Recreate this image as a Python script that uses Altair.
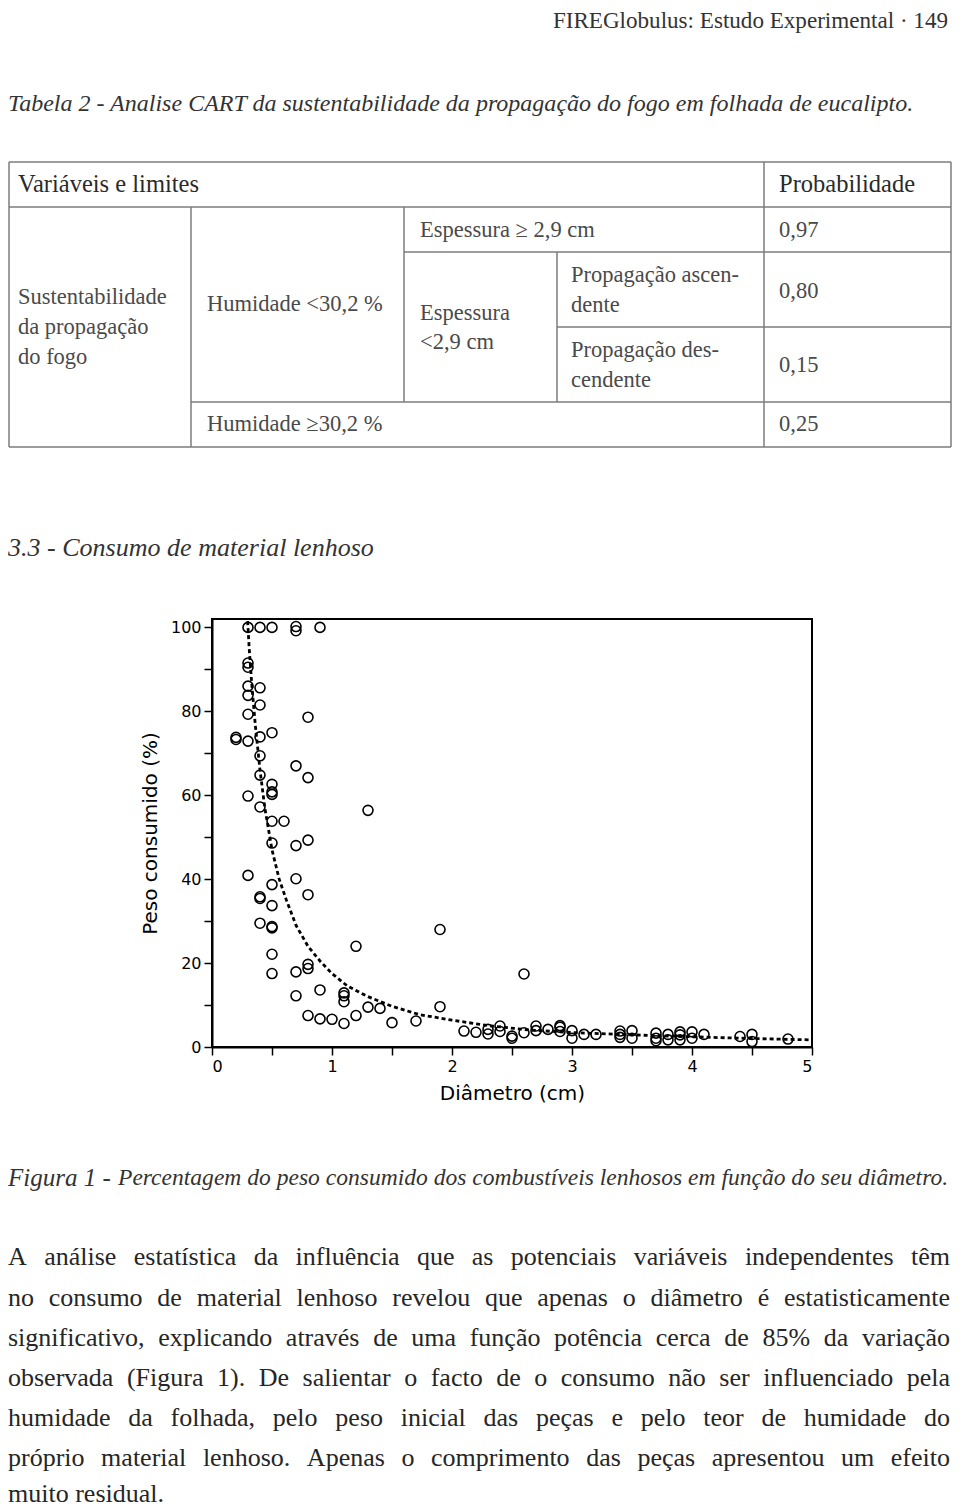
import unicodedata
import altair as alt
import pandas as pd

# ---------------- scatter data ----------------
diametro = [
    0.2, 0.2,
    0.3, 0.3, 0.3, 0.3, 0.3, 0.3, 0.3, 0.3, 0.3,
    0.4, 0.4, 0.4, 0.4, 0.4, 0.4, 0.4, 0.4, 0.4, 0.4,
    0.5, 0.5, 0.5, 0.5, 0.5, 0.5, 0.5, 0.5, 0.5, 0.5, 0.5, 0.5, 0.5,
    0.6,
    0.7, 0.7, 0.7, 0.7, 0.7, 0.7, 0.7,
    0.8, 0.8, 0.8, 0.8, 0.8, 0.8, 0.8,
    0.9, 0.9, 0.9,
    1.0,
    1.1, 1.1, 1.1, 1.1,
    1.2, 1.2, 1.3, 1.3, 1.4, 1.5, 1.7, 1.9, 1.9,
    2.1, 2.2, 2.3, 2.3, 2.4, 2.4, 2.5, 2.5, 2.6, 2.6, 2.7, 2.7, 2.8,
    2.9, 2.9, 2.9, 3.0, 3.0, 3.1, 3.2, 3.4, 3.4, 3.4, 3.5, 3.5,
    3.7, 3.7, 3.7, 3.8, 3.8, 3.9, 3.9, 3.9, 4.0, 4.0, 4.1, 4.4, 4.5, 4.5, 4.8,
]
peso_consumido = [
    73.8, 73.3,
    100, 91.5, 90.5, 86.0, 83.8, 79.3, 72.9, 59.8, 40.9,
    100, 85.6, 81.5, 73.9, 69.4, 64.8, 57.2, 35.8, 35.4, 29.5,
    100, 74.9, 62.6, 60.8, 60.2, 53.8, 48.6, 38.7, 33.7, 28.7, 28.4, 22.1, 17.5,
    53.8,
    100.2, 99.2, 67.0, 48.0, 40.1, 17.9, 12.2,
    78.6, 64.2, 49.3, 36.3, 19.7, 18.7, 7.5,
    100, 13.6, 6.7,
    6.6,
    12.9, 12.2, 10.8, 5.6,
    24.0, 7.5, 56.4, 9.5, 9.2, 5.8, 6.2, 28.0, 9.6,
    3.8, 3.5, 4.2, 3.1, 5.0, 3.7, 2.6, 2.1, 17.4, 3.4, 5.0, 3.9, 4.2,
    5.1, 4.7, 3.7, 3.9, 2.1, 3.0, 3.0, 3.8, 3.0, 2.3, 3.9, 2.1,
    3.3, 2.1, 1.5, 3.0, 1.7, 3.6, 2.9, 1.7, 3.6, 2.1, 3.0, 2.5, 3.0, 1.3, 1.9,
]
# fitted power curve (dotted)
curva_x = [0.297, 0.31, 0.33, 0.36, 0.40, 0.44, 0.50, 0.56, 0.62, 0.70, 0.80, 0.90,
           1.0, 1.13, 1.3, 1.5, 1.73, 2.0, 2.3, 2.66, 3.04, 3.4, 3.8, 4.16, 4.53, 5.0]
curva_y = [101.5, 95, 87, 77, 66, 57, 47, 40, 35, 29, 24, 20.5,
           17.5, 14.5, 12, 9.7, 7.7, 6.4, 5.1, 4.0, 3.4, 3.0, 2.6, 2.3, 2.0, 1.7]

x_ticks = [0, 0.5, 1, 1.5, 2, 2.5, 3, 3.5, 4, 4.5, 5]
y_ticks = [0, 10, 20, 30, 40, 50, 60, 70, 80, 90, 100]

# ---------------- page texts ----------------
cabecalho = "FIREGlobulus: Estudo Experimental  ·  149"
titulo_tabela = "Tabela 2 - Analise CART da sustentabilidade da propagação do fogo em folhada de eucalipto."
tabela_cabecalho = ["Variáveis e limites", "Probabilidade"]
tabela_col1 = ["Sustentabilidade", "da propagação", "do fogo"]
tabela_col2 = ["Humidade <30,2 %", "Humidade ≥30,2 %"]
tabela_col3 = ["Espessura ≥ 2,9 cm", "Espessura", "<2,9 cm"]
tabela_col4 = ["Propagação ascen-", "dente", "Propagação des-", "cendente"]
probabilidades = ["0,97", "0,80", "0,15", "0,25"]
titulo_seccao = "3.3 - Consumo de material lenhoso"
legenda_rotulo = "Figura 1 -"
legenda_texto = "Percentagem do peso consumido dos combustíveis lenhosos em função do seu diâmetro."
paragrafo = [
    "A análise estatística da influência que as potenciais variáveis independentes têm",
    "no consumo de material lenhoso revelou que apenas o diâmetro é estatisticamente",
    "significativo, explicando através de uma função potência cerca de 85% da variação",
    "observada (Figura 1). De salientar o facto de o consumo não ser influenciado pela",
    "humidade da folhada, pelo peso inicial das peças e pelo teor de humidade do",
    "próprio material lenhoso. Apenas o comprimento das peças apresentou um efeito",
    "muito residual.",
]

# ---------------- font metrics (Times / Liberation Serif) ----------------
REG = dict(zip("abcdefghijklmnopqrstuvwxyz",
               [444, 500, 444, 500, 444, 333, 500, 500, 278, 278, 500, 278, 778, 500, 500, 500, 500, 333, 389, 278, 500, 500, 722, 500, 500, 444]))
REG.update(dict(zip("ABCDEFGHIJKLMNOPQRSTUVWXYZ",
                    [722, 667, 667, 722, 611, 556, 722, 722, 333, 389, 722, 611, 889, 722, 722, 556, 722, 667, 556, 611, 722, 722, 944, 722, 722, 611])))
ITA = dict(zip("abcdefghijklmnopqrstuvwxyz",
               [500, 500, 444, 500, 444, 278, 500, 500, 278, 278, 444, 278, 722, 500, 500, 500, 500, 389, 389, 278, 500, 444, 667, 444, 444, 389]))
ITA.update(dict(zip("ABCDEFGHIJKLMNOPQRSTUVWXYZ",
                    [611, 611, 667, 722, 611, 611, 722, 722, 333, 444, 667, 556, 833, 667, 722, 611, 722, 611, 500, 556, 722, 611, 833, 611, 556, 556])))
for tbl in (REG, ITA):
    tbl.update({" ": 250, ".": 250, ",": 250, ":": 278, "-": 333, "(": 333, ")": 333, "%": 833, "·": 250})
    tbl.update({d: 500 for d in "0123456789"})


def em(s, italic=False):
    tbl = ITA if italic else REG
    return sum(tbl.get(unicodedata.normalize("NFD", c)[0], 500) for c in s) / 1000.0


def fit(s, target, italic=False):
    return target / em(s, italic)


# ---------------- layout (page pixel positions) ----------------
OX, OY = 212, 619          # page position of the plot area's top-left corner
PW, PH = 600, 428          # plot area size
SERIF = "Liberation Serif"
SANS = "DejaVu Sans"
LEFT = 8                   # leftmost visible page x
RIGHT = 951                # rightmost visible page x


def text_layer(rows, size, color="#333333", italic=False, align="left"):
    df = pd.DataFrame(rows, columns=["t", "px", "py"])
    df["px"] = df["px"] - OX
    df["py"] = df["py"] - OY
    return alt.Chart(df).mark_text(
        font=SERIF, fontSize=size, color=color, align=align, baseline="middle",
        fontStyle="italic" if italic else "normal",
    ).encode(
        x=alt.X("px:Q", scale=None, axis=None),
        y=alt.Y("py:Q", scale=None, axis=None),
        text="t:N",
    )


layers = []
# running header
layers.append(text_layer([(cabecalho, RIGHT - 3, 21)], fit(cabecalho, 405), "#333333", align="right"))
# table title
layers.append(text_layer([(titulo_tabela, LEFT, 104)], fit(titulo_tabela, 910, True), "#333333", italic=True))
# table header row
layers.append(text_layer([(tabela_cabecalho[0], 18, 185), (tabela_cabecalho[1], 779, 185)], 24.5, "#2a2a2a"))
# table body
body_rows = [
    (tabela_col1[0], 18, 297), (tabela_col1[1], 18, 327), (tabela_col1[2], 18, 357),
    (tabela_col2[0], 207, 304), (tabela_col2[1], 207, 424),
    (tabela_col3[0], 420, 230), (tabela_col3[1], 420, 313), (tabela_col3[2], 420, 342),
    (tabela_col4[0], 571, 275), (tabela_col4[1], 571, 305), (tabela_col4[2], 571, 350), (tabela_col4[3], 571, 380),
    (probabilidades[0], 779, 230), (probabilidades[1], 779, 291), (probabilidades[2], 779, 365), (probabilidades[3], 779, 424),
]
layers.append(text_layer(body_rows, 22.5, "#4a4a4a"))

# table rules
TL, TR = 9, RIGHT
h_lines = [(TL, TR, 162), (TL, TR, 207), (404, TR, 252), (557, TR, 327), (191, TR, 402), (TL, TR, 447)]
v_lines = [(TL, 162, 447), (TR, 162, 447), (191, 207, 447), (404, 207, 402), (557, 252, 402), (764, 162, 447)]
rules = [(a - OX, b - OX, y - OY, y - OY) for a, b, y in h_lines] + \
        [(x - OX, x - OX, a - OY, b - OY) for x, a, b in v_lines]
rule_df = pd.DataFrame(rules, columns=["x1", "x2", "y1", "y2"])
layers.append(alt.Chart(rule_df).mark_rule(color="#7d7d7d", strokeWidth=1.5).encode(
    x=alt.X("x1:Q", scale=None, axis=None), x2="x2:Q",
    y=alt.Y("y1:Q", scale=None, axis=None), y2="y2:Q"))

# section title
layers.append(text_layer([(titulo_seccao, LEFT, 548)], fit(titulo_seccao, 366, True), "#333333", italic=True))
# caption
layers.append(text_layer([(legenda_rotulo, LEFT, 1178)], fit(legenda_rotulo, 103, True), "#333333", italic=True))
layers.append(text_layer([(legenda_texto, 118, 1178)], fit(legenda_texto, RIGHT - 1 - 118, True), "#333333", italic=True))

# justified paragraph
X0, X1 = LEFT, RIGHT - 1
line_y = [1257, 1298, 1338, 1378, 1418, 1458, 1494]
nat = [em(l) for l in paragrafo[:-1]]
PSIZE = min(26.0, (X1 - X0) / max(nat))
word_rows = []
for i, line in enumerate(paragrafo):
    words = line.split(" ")
    widths = [em(w) * PSIZE for w in words]
    if i < len(paragrafo) - 1 and len(words) > 1:
        gap = ((X1 - X0) - sum(widths)) / (len(words) - 1)
    else:
        gap = 0.25 * PSIZE
    x = X0
    for w, wd in zip(words, widths):
        word_rows.append((w, x, line_y[i]))
        x += wd + gap
layers.append(text_layer(word_rows, PSIZE, "#262626"))

# ---------------- scatter plot ----------------
x_enc = alt.X("d:Q", title="Diâmetro (cm)",
              scale=alt.Scale(domain=[0, 5], nice=False, zero=False),
              axis=alt.Axis(values=x_ticks,
                            labelExpr="datum.value % 1 == 0 ? format(datum.value, 'd') : ''"))
y_enc = alt.Y("p:Q", title="Peso consumido (%)",
              scale=alt.Scale(domain=[0, 102], nice=False, zero=False),
              axis=alt.Axis(values=y_ticks,
                            labelExpr="datum.value % 20 == 0 ? format(datum.value, 'd') : ''"))

pts = pd.DataFrame({"d": diametro, "p": peso_consumido})
cur = pd.DataFrame({"d": curva_x, "p": curva_y})

curve = alt.Chart(cur).mark_line(color="black", strokeDash=[4, 3], strokeWidth=2.8, clip=True).encode(
    x=x_enc, y=y_enc)
points = alt.Chart(pts).mark_point(shape="circle", filled=False, size=100, color="black",
                                   strokeWidth=1.6, opacity=1).encode(x=x_enc, y=y_enc)

SVG_W = 944                # page width 960 minus the 8px margins
chart = alt.layer(*layers, curve, points).properties(
    width=PW, height=PH,
    autosize=alt.AutoSizeParams(type="none"),
    padding={"left": OX - 8, "top": OY - 8, "right": SVG_W - (OX - 8) - PW, "bottom": 1501 - (OY - 8) - PH},
    background="white",
).configure_view(
    stroke="black", strokeWidth=2,
).configure_axis(
    grid=False, domainColor="black", domainWidth=2, tickColor="black", tickWidth=1.5, tickSize=8,
    labelFont=SANS, labelFontSize=16, labelColor="black", labelPadding=3,
    titleFont=SANS, titleFontSize=20, titleFontWeight="normal", titleColor="black",
).configure_axisY(titlePadding=10).configure_axisX(titlePadding=9)

chart.save("out.html", embed_options={"renderer": "svg", "actions": False})
